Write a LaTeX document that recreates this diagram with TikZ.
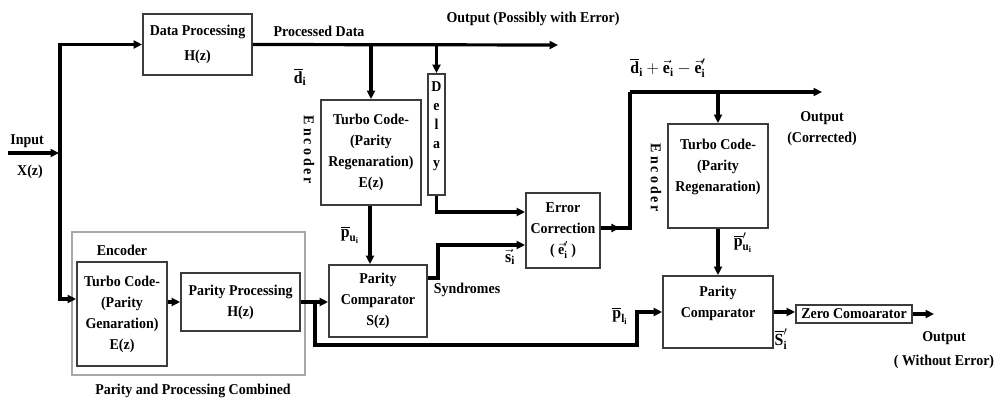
\documentclass[tikz,border=0pt]{standalone}
\usepackage{amsmath}
\usepackage{fontspec}
\setmainfont{Liberation Serif}[FakeStretch=0.93]
\newfontfamily\spcfont{Liberation Serif}[LetterSpace=20,FakeStretch=0.93]
\usetikzlibrary{arrows.meta}
\definecolor{boxc}{HTML}{3C3C3C}
\definecolor{grpc}{HTML}{A8A8A8}
\newcommand\txt{\bfseries\fontsize{15}{21}\selectfont}
% barred and arrowed symbols set in the bold text face
\newcommand\ob[1]{\overline{\text{#1}}}
\newcommand\ov[1]{\vec{\text{#1}}}
\tikzset{
  box/.style={draw=boxc, line width=1.8pt, inner sep=0pt, align=center, font=\txt, text=black},
  lbl/.style={inner sep=0pt, align=center, font=\txt},
  mth/.style={inner sep=0pt, font=\bfseries\fontsize{17}{21}\selectfont},
  enc/.style={inner sep=0pt, rotate=-90, font=\spcfont\bfseries\fontsize{15}{21}\selectfont},
  conn/.style={line width=3.2pt, line join=miter, draw=black},
  arr/.style={conn, -{Triangle[length=8.5pt,width=8pt]}},
}
\begin{document}
\begin{tikzpicture}[x=1pt,y=-1pt]
\useasboundingbox (0,0) rectangle (999,404);

% grouped parity branch
\node[draw=grpc, line width=1.5pt, minimum width=233pt, minimum height=143pt, inner sep=0pt] (grp) at (188.5,303.5) {};

% blocks
\node[box, minimum width=109pt, minimum height=61pt] (dp) at (197.5,44.5) {Data Processing\\[4pt]H(z)};
\node[box, minimum width=100pt, minimum height=105pt] (tc1) at (371,152.5) {Turbo Code-\\(Parity\\Regenaration)\\E(z)};
\node[box, minimum width=17pt, minimum height=121pt, font=\bfseries\fontsize{15}{19}\selectfont] (dl) at (436.5,134.5) {D\\e\\l\\a\\y\\\mbox{}};
\node[box, minimum width=98pt, minimum height=72pt] (pc1) at (378,301) {Parity\\Comparator\\S(z)};
\node[box, minimum width=74pt, minimum height=75pt] (ec) at (563,230.5) {Error\\Correction\\( $\ov{e}'_{\text{i}}$ )};
\node[box, minimum width=100pt, minimum height=104pt] (tc2) at (718,176) {Turbo Code-\\(Parity\\Regenaration)\\\mbox{}};
\node[box, minimum width=110pt, minimum height=72pt] (pc2) at (718,312) {Parity\\Comparator\\\mbox{}};
\node[box, minimum width=116pt, minimum height=18pt] (zc) at (854,314) {Zero Comoarator};
\node[box, minimum width=90pt, minimum height=104pt] (tg) at (122,314) {Turbo Code-\\(Parity\\Genaration)\\E(z)};
\node[box, minimum width=119pt, minimum height=58pt] (pp) at (240.5,302) {Parity Processing\\H(z)};

% free line ends and corners
\coordinate (inL) at (8,153);
\coordinate (split) at (60,153);
\coordinate (outA) at (558,45);
\coordinate (c2) at (630,92);
\coordinate (outB) at (822,92);
\coordinate (bl) at (637,345);
\coordinate (outC) at (934,314);

% connectors
\draw[arr, shorten >=1pt] (inL) -- (split);
\draw[arr] (split) |- (dp.west);
\draw[arr] (split) |- ([yshift=15pt]tg.west);
\draw[arr] (dp.east) -- (outA);
\draw[arr] (tc1.north |- dp.east) -- (tc1.north);
\draw[arr] (dl.north |- dp.east) -- (dl.north);
\draw[arr] (dl.south) |- ([yshift=18.5pt]ec.west);
\draw[arr] ([xshift=-1pt]tc1.south) -- ([xshift=-1pt]tc1.south |- pc1.north);
\draw[arr] ([yshift=23pt]pc1.east) -- ++(10,0) |- ([yshift=-14.5pt]ec.west);
\draw[conn] ([yshift=2.5pt]ec.east) -| (c2);
\draw[arr] ([yshift=2.5pt]ec.east) -- ++(19,0);
\draw[arr] (c2) -- (outB);
\draw[arr] (tc2.north |- c2) -- (tc2.north);
\draw[arr] (tc2.south) -- (pc2.north);
\draw[arr] (tg.east |- pp.west) -- (pp.west);
\draw[arr] (pp.east) -- (pp.east -| pc1.west);
\draw[arr] ([xshift=14pt]pp.east) |- (bl) |- (pc2.west);
\draw[arr] (pc2.east) -- (pc2.east -| zc.west);
\draw[arr] (zc.east) -- (outC);

% labels
\node[lbl] (lin) at (27,141) {Input};
\node[lbl] (lx) at (30,172) {X(z)};
\node[lbl] (lpd) at (319,31) {Processed Data};
\node[lbl] (lout1) at (533,19) {Output (Possibly with Error)};
\node[mth] (ld) at (300,77) {$\ob{d}_{\text{i}}$};
\node[mth] (lsum) at (668,68) {$\ob{d}_{\text{i}} + \ov{e}_{\text{i}} - \ov{e}'_{\text{i}}$};
\node[lbl] (lout2) at (822,129) {Output\\(Corrected)};
\node[mth] (lpu) at (350,235) {$\ob{p}_{\text{u}_{\text{i}}}$};
\node[lbl] (lsyn) at (467,290) {Syndromes};
\node[mth] (ls) at (510,257) {$\ov{s}_{\text{i}}$};
\node[mth] (lpl) at (620,316) {$\ob{p}_{\text{l}_{\text{i}}}$};
\node[mth] (lpu2) at (743,243) {$\ob{p}'_{\text{u}_{\text{i}}}$};
\node[mth] (lsp) at (781,339) {$\ob{S}'_{\text{i}}$};
\node[lbl, font=\bfseries\fontsize{15}{24}\selectfont] (lout3) at (944,350) {Output\\( Without Error)};
\node[lbl] (lenc) at (122,250) {Encoder};
\node[lbl] (lgrp) at (193,391) {Parity and Processing Combined};
\node[enc] (le1) at (309,150) {Encoder};
\node[enc] (le2) at (656,178) {Encoder};
\end{tikzpicture}
\end{document}
